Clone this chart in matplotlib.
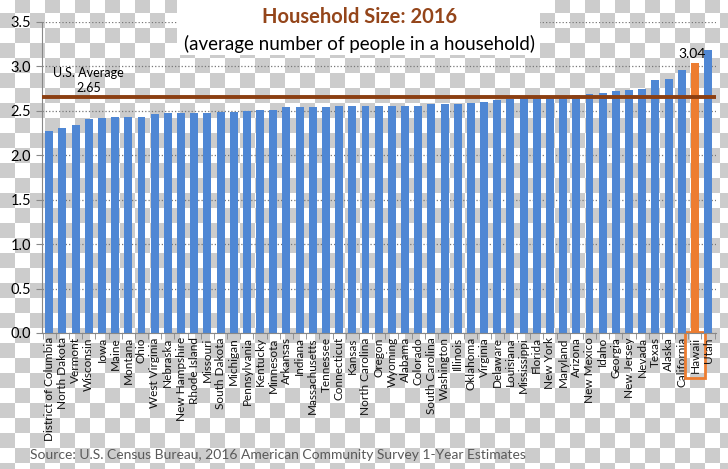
import numpy as np
from matplotlib import pyplot as plt
from matplotlib.patches import Rectangle

# household size by state, ACS 2016
states = ['District of Columbia', 'North Dakota', 'Vermont', 'Wisconsin', 'Iowa', 'Maine',
          'Montana', 'Ohio', 'West Virginia', 'Nebraska', 'New Hampshire', 'Rhode Island',
          'Missouri', 'South Dakota', 'Michigan', 'Pennsylvania', 'Kentucky', 'Minnesota',
          'Arkansas', 'Indiana', 'Massachusetts', 'Tennessee', 'Connecticut', 'Kansas',
          'North Carolina', 'Oregon', 'Wyoming', 'Alabama', 'Colorado', 'South Carolina',
          'Washington', 'Illinois', 'Oklahoma', 'Virginia', 'Delaware', 'Louisiana',
          'Mississippi', 'Florida', 'New York', 'Maryland', 'Arizona', 'New Mexico', 'Idaho',
          'Georgia', 'New Jersey', 'Nevada', 'Texas', 'Alaska', 'California', 'Hawaii', 'Utah']
sizes = [2.27, 2.31, 2.34, 2.41, 2.42, 2.43, 2.43, 2.43, 2.46, 2.47, 2.47, 2.47, 2.47, 2.48,
         2.49, 2.50, 2.51, 2.51, 2.54, 2.54, 2.54, 2.54, 2.55, 2.55, 2.55, 2.55, 2.55, 2.55,
         2.55, 2.57, 2.57, 2.58, 2.59, 2.60, 2.62, 2.63, 2.64, 2.64, 2.64, 2.67, 2.68, 2.69,
         2.70, 2.72, 2.73, 2.74, 2.85, 2.86, 2.96, 3.04, 3.18]
usAverage = 2.65
highlight = 'Hawaii'

blue = '#4F87D4'
orange = '#ED7D31'
brown = '#94451A'

plt.rcParams['font.family'] = ['Lato', 'DejaVu Sans']

fig = plt.figure(figsize=(7.28, 4.69), dpi=100)
fig.patch.set_facecolor('white')

# transparency checkerboard behind everything
yy, xx = np.mgrid[0:469, 0:728]
cell = ((xx // 15) + ((yy + 2) // 15)) % 2
bg = np.where(cell[..., None] == 1, 0.80, 1.0) * np.ones((469, 728, 3))
fig.figimage(bg, xo=0, yo=0, origin='upper', zorder=-10)

ax = fig.add_axes([0.0577, 0.29, 0.9258, 0.6637])
ax.patch.set_alpha(0)

x = np.arange(len(states))
colors = [orange if s == highlight else blue for s in states]
ax.bar(x, sizes, width=0.6, color=colors, zorder=2)

ax.axhline(usAverage, color='#8B3F12', lw=2.8, zorder=3)
ax.text(3.0, 2.84, 'U.S. Average\n%.2f' % usAverage, ha='center', va='center',
        fontsize=9, linespacing=1.25, zorder=4)

hi = states.index(highlight)
ax.text(hi - 0.25, sizes[hi] + 0.03, '%.2f' % sizes[hi], ha='center', va='bottom',
        fontsize=10, zorder=4)

ax.set_xlim(-0.55, 50.6)
ax.set_ylim(0, 3.5)
ax.set_yticks(np.arange(0, 3.51, 0.5))
ax.set_yticklabels(['%.1f' % v for v in np.arange(0, 3.51, 0.5)], fontsize=10.5)
ax.yaxis.grid(True, linestyle=':', color='#777777', lw=0.9, zorder=1)
ax.set_axisbelow(True)

ax.set_xticks(x)
ax.set_xticklabels(states, rotation=90, fontsize=8.5, color='#111111')
ax.set_xticks(np.arange(-0.5, len(states), 1), minor=True)
ax.tick_params(axis='x', which='major', length=0, pad=3)
ax.tick_params(axis='x', which='minor', length=4, color='#888888')
ax.tick_params(axis='y', length=4, color='#888888', pad=4)

for side in ['top', 'right']:
    ax.spines[side].set_visible(False)
ax.spines['left'].set_color('#888888')
ax.spines['bottom'].set_color('#888888')

for lbl in ax.get_xticklabels():
    if lbl.get_text() == highlight:
        lbl.set_bbox(dict(boxstyle='square,pad=0.4', facecolor='none', edgecolor=orange, lw=2))

# white title box
fig.patches.append(Rectangle((0.243, 0.8827), 0.4986, 0.1173, transform=fig.transFigure,
                             facecolor='white', edgecolor='none', zorder=1))
fig.text(0.4945, 0.963, 'Household Size: 2016', ha='center', va='center', fontsize=14.5,
         fontweight='bold', color=brown, zorder=2)
fig.text(0.4935, 0.906, '(average number of people in a household)', ha='center', va='center',
         fontsize=13.5, zorder=2)

fig.text(0.041, 0.03, 'Source: U.S. Census Bureau, 2016 American Community Survey 1-Year Estimates',
         ha='left', va='center', fontsize=10, color='#595959')

fig.savefig('out.png', dpi=100)
